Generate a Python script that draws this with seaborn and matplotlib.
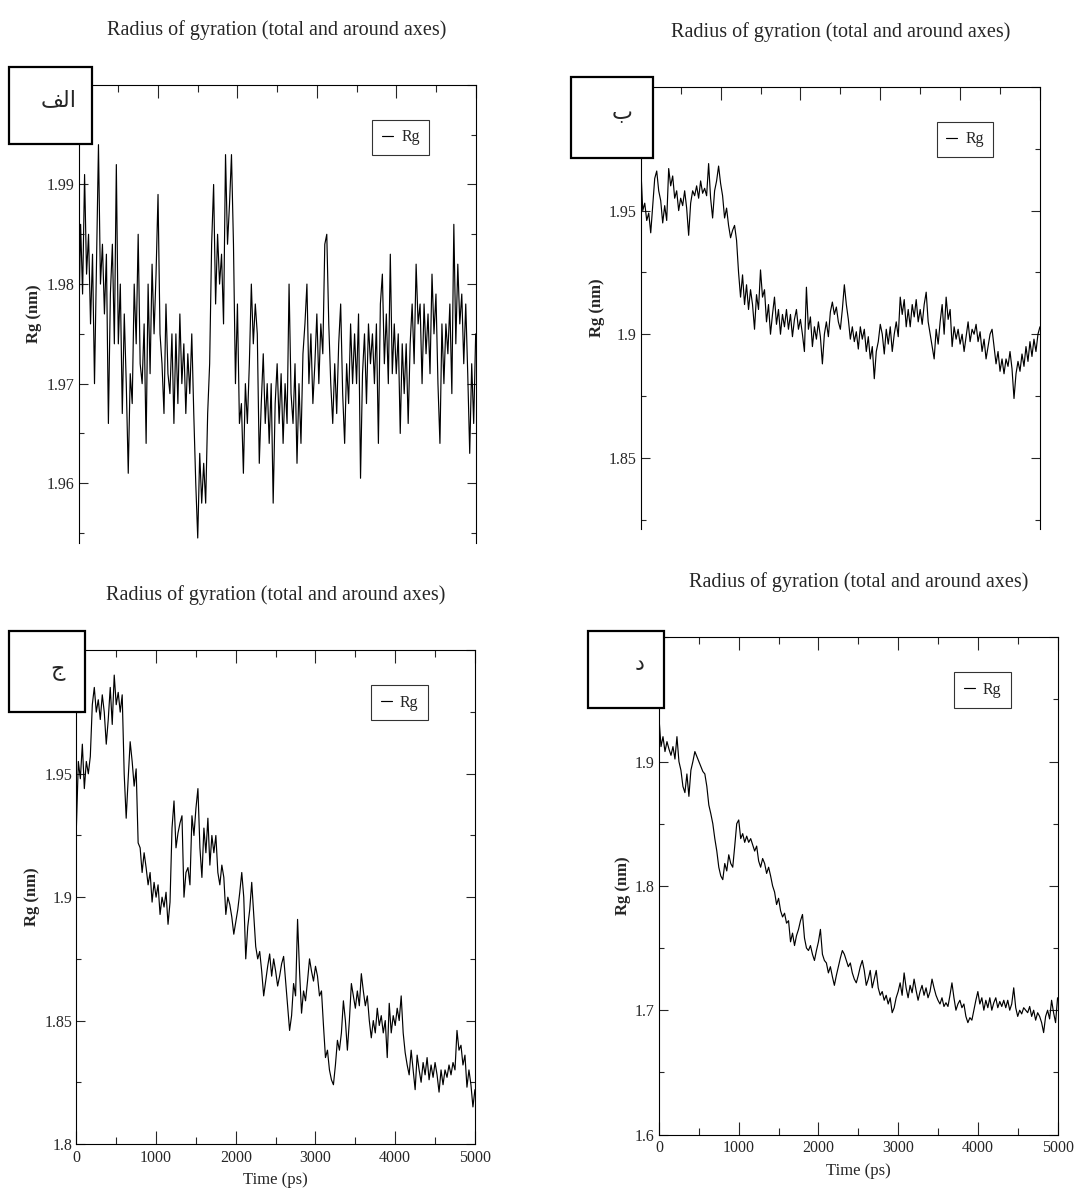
import numpy as np
import pandas as pd
import matplotlib
matplotlib.use("Agg")
import matplotlib.pyplot as plt
import seaborn as sns
from matplotlib.patches import Rectangle

# sampling grid of the trajectories (ps)
time_ps = np.arange(0, 5001, 25)

# Rg (nm), 8 values per 200 ps
rg_a = [
    1.975, 1.986, 1.979, 1.991, 1.981, 1.985, 1.976, 1.983,
    1.970, 1.982, 1.994, 1.980, 1.984, 1.977, 1.983, 1.966,
    1.979, 1.984, 1.974, 1.992, 1.974, 1.980, 1.967, 1.977,
    1.970, 1.961, 1.971, 1.968, 1.980, 1.974, 1.985, 1.972,
    1.970, 1.976, 1.964, 1.980, 1.971, 1.982, 1.975, 1.981,
    1.989, 1.975, 1.972, 1.967, 1.978, 1.971, 1.969, 1.975,
    1.966, 1.975, 1.968, 1.977, 1.970, 1.974, 1.967, 1.973,
    1.969, 1.975, 1.967, 1.960, 1.9545, 1.963, 1.958, 1.962,
    1.958, 1.967, 1.972, 1.984, 1.990, 1.978, 1.985, 1.980,
    1.983, 1.976, 1.993, 1.984, 1.988, 1.993, 1.984, 1.970,
    1.978, 1.966, 1.968, 1.961, 1.970, 1.966, 1.972, 1.980,
    1.974, 1.978, 1.975, 1.962, 1.968, 1.973, 1.966, 1.970,
    1.964, 1.970, 1.958, 1.968, 1.972, 1.966, 1.971, 1.964,
    1.970, 1.966, 1.980, 1.969, 1.966, 1.972, 1.962, 1.970,
    1.964, 1.973, 1.976, 1.980, 1.970, 1.975, 1.968, 1.972,
    1.977, 1.970, 1.976, 1.973, 1.984, 1.985, 1.976, 1.970,
    1.966, 1.972, 1.967, 1.974, 1.978, 1.969, 1.964, 1.972,
    1.968, 1.976, 1.970, 1.975, 1.970, 1.977, 1.9605, 1.971,
    1.975, 1.968, 1.976, 1.972, 1.975, 1.970, 1.976, 1.964,
    1.978, 1.981, 1.972, 1.977, 1.970, 1.983, 1.971, 1.976,
    1.971, 1.975, 1.965, 1.974, 1.969, 1.974, 1.966, 1.974,
    1.978, 1.972, 1.982, 1.976, 1.978, 1.970, 1.978, 1.973,
    1.977, 1.971, 1.981, 1.975, 1.979, 1.970, 1.964, 1.976,
    1.970, 1.976, 1.973, 1.978, 1.969, 1.986, 1.974, 1.982,
    1.976, 1.979, 1.972, 1.978, 1.971, 1.963, 1.972, 1.966,
    1.975,
]

rg_b = [
    1.968, 1.950, 1.953, 1.946, 1.949, 1.941, 1.952, 1.963,
    1.966, 1.958, 1.954, 1.945, 1.952, 1.946, 1.967, 1.960,
    1.964, 1.955, 1.958, 1.950, 1.955, 1.952, 1.958, 1.951,
    1.940, 1.953, 1.958, 1.956, 1.960, 1.955, 1.962, 1.957,
    1.959, 1.956, 1.969, 1.955, 1.947, 1.958, 1.962, 1.968,
    1.961, 1.956, 1.947, 1.951, 1.944, 1.939, 1.942, 1.944,
    1.938, 1.925, 1.915, 1.924, 1.912, 1.920, 1.910, 1.918,
    1.912, 1.902, 1.916, 1.910, 1.926, 1.915, 1.918, 1.905,
    1.912, 1.900, 1.908, 1.915, 1.904, 1.910, 1.900, 1.908,
    1.903, 1.910, 1.902, 1.908, 1.899, 1.906, 1.910, 1.902,
    1.906, 1.900, 1.893, 1.919, 1.902, 1.907, 1.895, 1.903,
    1.898, 1.905, 1.899, 1.888, 1.900, 1.905, 1.899, 1.909,
    1.913, 1.908, 1.911, 1.905, 1.902, 1.910, 1.920, 1.912,
    1.906, 1.898, 1.903, 1.897, 1.901, 1.894, 1.903, 1.898,
    1.902, 1.893, 1.899, 1.890, 1.895, 1.882, 1.893, 1.897,
    1.904, 1.900, 1.892, 1.902, 1.896, 1.903, 1.893, 1.900,
    1.905, 1.899, 1.915, 1.908, 1.914, 1.903, 1.910, 1.903,
    1.912, 1.907, 1.914, 1.905, 1.910, 1.904, 1.912, 1.917,
    1.905, 1.900, 1.895, 1.890, 1.902, 1.896, 1.905, 1.912,
    1.900, 1.915, 1.906, 1.910, 1.895, 1.903, 1.898, 1.902,
    1.896, 1.900, 1.893, 1.899, 1.905, 1.897, 1.902, 1.900,
    1.904, 1.897, 1.901, 1.893, 1.898, 1.890, 1.895, 1.900,
    1.902, 1.895, 1.888, 1.893, 1.885, 1.890, 1.884, 1.890,
    1.887, 1.893, 1.886, 1.874, 1.884, 1.889, 1.885, 1.892,
    1.887, 1.895, 1.889, 1.897, 1.891, 1.898, 1.893, 1.900,
    1.903,
]

rg_c = [
    1.928, 1.955, 1.948, 1.962, 1.944, 1.955, 1.950, 1.957,
    1.978, 1.985, 1.975, 1.980, 1.972, 1.982, 1.975, 1.962,
    1.972, 1.985, 1.970, 1.990, 1.978, 1.983, 1.975, 1.982,
    1.950, 1.932, 1.948, 1.963, 1.955, 1.945, 1.952, 1.922,
    1.920, 1.910, 1.918, 1.912, 1.905, 1.910, 1.898, 1.906,
    1.900, 1.905, 1.893, 1.900, 1.896, 1.902, 1.889, 1.898,
    1.928, 1.939, 1.920, 1.926, 1.930, 1.933, 1.900, 1.910,
    1.912, 1.905, 1.933, 1.925, 1.936, 1.944, 1.920, 1.908,
    1.928, 1.918, 1.932, 1.913, 1.925, 1.918, 1.925, 1.910,
    1.905, 1.913, 1.908, 1.893, 1.900, 1.897, 1.892, 1.885,
    1.890, 1.895, 1.902, 1.910, 1.900, 1.875, 1.888, 1.895,
    1.906, 1.893, 1.880, 1.875, 1.878, 1.870, 1.860, 1.866,
    1.872, 1.877, 1.868, 1.875, 1.870, 1.864, 1.868, 1.873,
    1.876, 1.866, 1.856, 1.846, 1.852, 1.865, 1.860, 1.891,
    1.870, 1.853, 1.862, 1.858, 1.866, 1.875, 1.870, 1.866,
    1.872, 1.868, 1.860, 1.862, 1.848, 1.835, 1.838, 1.830,
    1.826, 1.824, 1.832, 1.842, 1.838, 1.845, 1.858, 1.850,
    1.838, 1.850, 1.865, 1.860, 1.855, 1.862, 1.856, 1.869,
    1.862, 1.856, 1.860, 1.850, 1.843, 1.850, 1.845, 1.855,
    1.848, 1.852, 1.845, 1.850, 1.835, 1.857, 1.845, 1.852,
    1.848, 1.855, 1.850, 1.860, 1.845, 1.837, 1.832, 1.828,
    1.838, 1.830, 1.822, 1.836, 1.830, 1.825, 1.833, 1.828,
    1.835, 1.826, 1.832, 1.827, 1.833, 1.828, 1.821, 1.830,
    1.824, 1.830, 1.827, 1.832, 1.828, 1.833, 1.830, 1.846,
    1.838, 1.840, 1.832, 1.836, 1.823, 1.830, 1.824, 1.815,
    1.822,
]

rg_d = [
    1.935, 1.912, 1.920, 1.908, 1.916, 1.910, 1.905, 1.912,
    1.902, 1.920, 1.900, 1.893, 1.880, 1.875, 1.890, 1.872,
    1.893, 1.900, 1.908, 1.904, 1.900, 1.896, 1.892, 1.890,
    1.880, 1.865, 1.858, 1.850, 1.838, 1.828, 1.815, 1.808,
    1.805, 1.818, 1.812, 1.825, 1.818, 1.815, 1.832, 1.850,
    1.853, 1.838, 1.842, 1.835, 1.840, 1.835, 1.838, 1.833,
    1.828, 1.832, 1.820, 1.815, 1.822, 1.818, 1.810, 1.815,
    1.808, 1.800, 1.795, 1.785, 1.790, 1.780, 1.775, 1.778,
    1.770, 1.772, 1.755, 1.762, 1.752, 1.760, 1.765, 1.772,
    1.777, 1.758, 1.750, 1.748, 1.752, 1.745, 1.740, 1.748,
    1.755, 1.765, 1.745, 1.740, 1.738, 1.730, 1.735, 1.727,
    1.720, 1.728, 1.735, 1.742, 1.748, 1.745, 1.740, 1.735,
    1.738, 1.730, 1.725, 1.722, 1.728, 1.735, 1.740, 1.732,
    1.720, 1.725, 1.732, 1.718, 1.725, 1.732, 1.718, 1.712,
    1.715, 1.708, 1.712, 1.705, 1.710, 1.698, 1.702, 1.710,
    1.715, 1.722, 1.712, 1.730, 1.718, 1.710, 1.720, 1.714,
    1.725, 1.716, 1.708, 1.715, 1.720, 1.712, 1.718, 1.710,
    1.715, 1.725, 1.718, 1.712, 1.708, 1.705, 1.710, 1.703,
    1.706, 1.703, 1.712, 1.722, 1.710, 1.700, 1.705, 1.708,
    1.702, 1.705, 1.695, 1.690, 1.694, 1.692, 1.700, 1.708,
    1.715, 1.705, 1.710, 1.700, 1.708, 1.702, 1.710, 1.700,
    1.706, 1.710, 1.702, 1.707, 1.703, 1.708, 1.702, 1.708,
    1.700, 1.705, 1.718, 1.702, 1.695, 1.700, 1.697, 1.702,
    1.700, 1.698, 1.703, 1.695, 1.700, 1.692, 1.698, 1.695,
    1.690, 1.682, 1.695, 1.700, 1.693, 1.708, 1.698, 1.690,
    1.710,
]

# tick values / labels
x_major = [0, 1000, 2000, 3000, 4000, 5000]
x_minor = [500, 1500, 2500, 3500, 4500]
yticks_a = [1.96, 1.97, 1.98, 1.99, 2.0]
ylabels_a = ["1.96", "1.97", "1.98", "1.99", ""]
yminor_a = [1.955, 1.965, 1.975, 1.985, 1.995]
yticks_b = [1.85, 1.9, 1.95, 2.0]
ylabels_b = ["1.85", "1.9", "1.95", ""]
yminor_b = [1.825, 1.875, 1.925, 1.975]
yticks_c = [1.8, 1.85, 1.9, 1.95, 2.0]
ylabels_c = ["1.8", "1.85", "1.9", "1.95", ""]
yminor_c = [1.825, 1.875, 1.925, 1.975]
yticks_d = [1.6, 1.7, 1.8, 1.9, 2.0]
ylabels_d = ["1.6", "1.7", "1.8", "1.9", ""]
yminor_d = [1.65, 1.75, 1.85, 1.95]

# panel tags (الف shaped into presentation forms, matplotlib does no arabic shaping)
tags = ["\ufed2\ufedf\ufe8d", "ب", "ج", "د"]
title = "Radius of gyration (total and around axes)"

sns.set_theme(style="ticks")
plt.rcParams["font.family"] = ["Liberation Serif", "DejaVu Serif"]
plt.rcParams["axes.edgecolor"] = "black"
plt.rcParams["axes.linewidth"] = 0.8

W, H = 1074, 1191
fig = plt.figure(figsize=(W / 100, H / 100), dpi=100)

panels = [
    dict(rect=[0.0732, 0.5441, 0.3697, 0.3846], rg=rg_a, ylim=(1.954, 2.0),
         yt=yticks_a, yl=ylabels_a, ym=yminor_a, full=False,
         box=(8.6, 67, 92, 144), tagxy=(59, 100), leg=(0.740, 0.924)),
    dict(rect=[0.5966, 0.5562, 0.3717, 0.3708], rg=rg_b, ylim=(1.8214, 2.0),
         yt=yticks_b, yl=ylabels_b, ym=yminor_b, full=False,
         box=(571, 77, 653, 158), tagxy=(622, 113), leg=(0.741, 0.921)),
    dict(rect=[0.0711, 0.0395, 0.3711, 0.4144], rg=rg_c, ylim=(1.8, 2.0),
         yt=yticks_c, yl=ylabels_c, ym=yminor_c, full=True,
         box=(8.6, 631, 85, 712), tagxy=(58, 670), leg=(0.740, 0.930)),
    dict(rect=[0.6136, 0.0474, 0.3711, 0.4176], rg=rg_d, ylim=(1.6, 2.0),
         yt=yticks_d, yl=ylabels_d, ym=yminor_d, full=True,
         box=(587.6, 630.7, 664, 708), tagxy=(640, 663.6), leg=(0.741, 0.929)),
]

for p, tag in zip(panels, tags):
    ax = fig.add_axes(p["rect"])
    df = pd.DataFrame({"Time (ps)": time_ps, "Rg": p["rg"]})
    sns.lineplot(data=df, x="Time (ps)", y="Rg", ax=ax, color="black",
                 linewidth=0.85, estimator=None, label="Rg")
    ax.set_xlim(0, 5000)
    ax.set_ylim(*p["ylim"])
    ax.set_xticks(x_major)
    ax.set_xticks(x_minor, minor=True)
    ax.set_yticks(p["yt"], p["yl"])
    ax.set_yticks(p["ym"], minor=True)

    full = p["full"]
    ax.tick_params(axis="x", which="major", direction="in", length=9.4, width=0.8,
                   top=True, bottom=full, labelbottom=full, labelsize=11.5, pad=4)
    ax.tick_params(axis="x", which="minor", direction="in", length=5, width=0.8,
                   top=True, bottom=full)
    ax.tick_params(axis="y", which="major", direction="in", length=6.5, width=0.8,
                   right=True, labelsize=11.5, pad=3)
    ax.tick_params(axis="y", which="minor", direction="in", length=3.6, width=0.8,
                   right=True)
    if full:
        ax.set_xlabel("Time (ps)", fontsize=12, labelpad=5)
    else:
        ax.spines["bottom"].set_visible(False)
        ax.set_xlabel("")
    ax.set_ylabel("Rg (nm)", fontsize=12, fontweight="bold", labelpad=3)
    ax.set_title(title, fontsize=14.5, pad=36)

    leg = ax.legend(loc="upper left", bbox_to_anchor=p["leg"], borderaxespad=0,
                    frameon=True, fancybox=False, handlelength=0.7,
                    handletextpad=0.5, borderpad=0.6, fontsize=11.5)
    leg.get_frame().set_edgecolor("black")
    leg.get_frame().set_linewidth(0.8)

    # boxed arabic panel tag
    x0, y0, x1, y1 = p["box"]
    fig.add_artist(Rectangle((x0 / W, 1 - y1 / H), (x1 - x0) / W, (y1 - y0) / H,
                             transform=fig.transFigure, facecolor="white",
                             edgecolor="black", linewidth=1.6, zorder=10))
    tx, ty = p["tagxy"]
    fig.text(tx / W, 1 - ty / H, tag, ha="center", va="center", fontsize=16,
             family=["DejaVu Sans"], zorder=11)

fig.savefig("out.png", dpi=100)
